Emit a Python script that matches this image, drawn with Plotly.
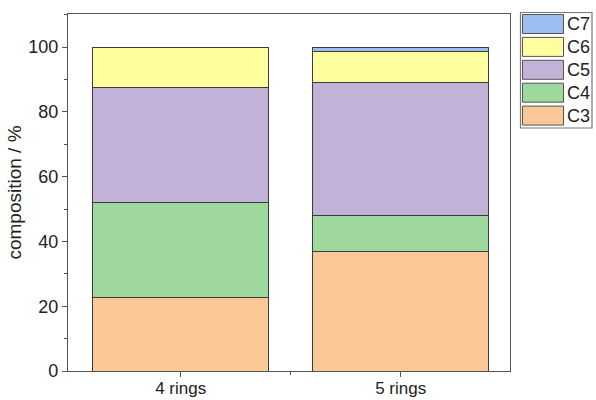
import plotly.graph_objects as go

# Ring-size composition data
categories = ["4 rings", "5 rings"]
series_names = ["C3", "C4", "C5", "C6", "C7"]
c3 = [22.8, 36.8]
c4 = [29.1, 11.3]
c5 = [35.5, 40.9]
c6 = [12.6, 9.5]
c7 = [None, 1.5]
colors = ["#F9C896", "#9ED89C", "#C2B2D8", "#FEFE9E", "#9CBDF0"]

W, H = 596, 400
ML, MR, MT, MB = 68, 86, 14, 29
PW, PH = W - ML - MR, H - MT - MB

fig = go.Figure()
for name, vals, col in zip(series_names, [c3, c4, c5, c6, c7], colors):
    fig.add_trace(go.Bar(
        x=[0, 1], y=vals, name=name, width=0.8,
        marker=dict(color=col, line=dict(color="#3a3a3a", width=1)),
        showlegend=False,
    ))


def px_x(p):
    return (p - ML) / PW


def px_y(p):
    return (H - MB - p) / PH


# Legend drawn as a framed box with large swatches (top entry first)
shapes = [dict(type="rect", xref="paper", yref="paper",
               x0=px_x(520.5), x1=px_x(592), y0=px_y(12.5), y1=px_y(128),
               line=dict(color="#777", width=1.2), fillcolor="white", layer="above")]
annotations = []
for i, (name, col) in enumerate(reversed(list(zip(series_names, colors)))):
    top = 14.5 + i * 22.9
    shapes.append(dict(type="rect", xref="paper", yref="paper",
                       x0=px_x(522.5), x1=px_x(563.5), y0=px_y(top), y1=px_y(top + 19),
                       fillcolor=col, line=dict(color="#555", width=1), layer="above"))
    annotations.append(dict(xref="paper", yref="paper", x=px_x(564.5), y=px_y(top + 9.5),
                            text=name, showarrow=False, xanchor="left", yanchor="middle",
                            font=dict(size=18, color="#222", family="Liberation Sans")))

fig.update_layout(
    barmode="stack",
    width=W, height=H,
    margin=dict(l=ML, r=MR, t=MT, b=MB, pad=0),
    paper_bgcolor="white", plot_bgcolor="white",
    font=dict(family="Liberation Sans", size=18, color="#222"),
    shapes=shapes, annotations=annotations,
    xaxis=dict(
        range=[-0.512, 1.497], tickvals=[0, 1], ticktext=categories,
        ticks="outside", ticklen=5, tickcolor="#555", tickwidth=1.2,
        minor=dict(tickvals=[0.5], ticks="outside", ticklen=3, tickcolor="#555"),
        showline=True, linecolor="#555", linewidth=1.2, mirror=True,
        showgrid=False, zeroline=False, tickfont=dict(size=17),
        ticklabelstandoff=-4,
        automargin=False,
    ),
    yaxis=dict(
        range=[0, 110.2], tickvals=[0, 20, 40, 60, 80, 100],
        ticks="outside", ticklen=5, tickcolor="#555", tickwidth=1.2,
        minor=dict(tickvals=[10, 30, 50, 70, 90, 110], ticks="outside", ticklen=3, tickcolor="#555"),
        showline=True, linecolor="#555", linewidth=1.2, mirror=True,
        showgrid=False, zeroline=False, tickfont=dict(size=18),
        title=dict(text="composition / %", font=dict(size=19), standoff=1),
        automargin=False,
    ),
)

fig.write_html("out.html")
